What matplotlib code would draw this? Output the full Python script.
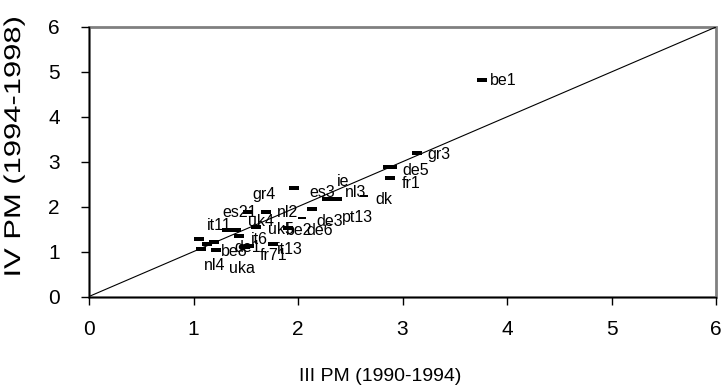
import matplotlib.pyplot as plt
from matplotlib import patheffects
from matplotlib.transforms import Affine2D
from matplotlib.patches import Rectangle

plt.rcParams['font.family'] = ['Liberation Sans', 'DejaVu Sans']

# valores por região: III PM (1990-1994) x IV PM (1994-1998)
pm3 = [1.05, 1.07, 1.13, 1.20, 1.22, 1.32, 1.41, 1.44, 1.49, 1.53, 1.60, 1.52,
       1.69, 1.76, 1.90, 1.96, 2.13, 2.28, 2.37, 2.86, 2.90, 2.88, 3.14, 3.76]
pm4 = [1.28, 1.05, 1.17, 1.22, 1.04, 1.48, 1.48, 1.35, 1.11, 1.12, 1.55, 1.89,
       1.89, 1.17, 1.53, 2.42, 1.95, 2.16, 2.16, 2.88, 2.88, 2.64, 3.20, 4.82]
# dois pontos que aparecem achatados
pm3_b = [2.04, 2.63]
pm4_b = [1.74, 2.23]

# rótulos das regiões e onde ficam
regioes = ['be1', 'gr3', 'de5', 'fr1', 'dk', 'ie', 'nl3', 'es3', 'gr4', 'de3',
           'pt13', 'nl2', 'es21', 'uk4', 'uk5', 'be2', 'de6', 'it11', 'it6',
           'be8', 'de1', 'fr71', 'it13', 'nl4', 'uka']
rot_x = [3.84, 3.24, 3.00, 2.99, 2.74, 2.37, 2.45, 2.11, 1.56, 2.18,
         2.42, 1.80, 1.28, 1.52, 1.71, 1.88, 2.08, 1.13, 1.55,
         1.26, 1.39, 1.63, 1.80, 1.10, 1.34]
rot_y = [4.82, 3.17, 2.80, 2.51, 2.17, 2.55, 2.31, 2.31, 2.28, 1.68,
         1.75, 1.88, 1.88, 1.66, 1.50, 1.46, 1.46, 1.57, 1.26,
         1.01, 1.10, 0.92, 1.04, 0.70, 0.63]

ticks = [0, 1, 2, 3, 4, 5, 6]


class Estica(patheffects.AbstractPathEffect):
    """Estica o texto ao longo da sua direção, em torno do centro."""
    def __init__(self, fator):
        super().__init__()
        self.fator = fator

    def draw_path(self, renderer, gc, tpath, affine, rgbFace=None):
        ext = tpath.get_extents()
        cx = (ext.x0 + ext.x1) / 2
        aff = Affine2D().translate(-cx, 0).scale(self.fator, 1).translate(cx, 0) + affine
        renderer.draw_path(gc, tpath, aff, rgbFace)


fig = plt.figure(figsize=(7.21, 3.89), dpi=100)
ax = fig.add_axes([89 / 721, 1 - 296.5 / 389, 627 / 721, 269.5 / 389])

ret = [(-1, -0.5), (1, -0.5), (1, 0.5), (-1, 0.5), (-1, -0.5)]
ret_b = [(-1, -0.25), (1, -0.25), (1, 0.25), (-1, 0.25), (-1, -0.25)]

ax.plot([0, 6], [0, 6], color='black', lw=0.8, zorder=2)
ax.plot(pm3, pm4, ls='none', marker=ret, ms=6.8, color='black', mew=0, zorder=3)
ax.plot(pm3_b, pm4_b, ls='none', marker=ret_b, ms=5.8, color='black', mew=0, zorder=3)

for nome, x, y in zip(regioes, rot_x, rot_y):
    ax.text(x, y, nome, fontsize=11.5, ha='left', va='center', zorder=4)

ax.set_xlim(0, 6)
ax.set_ylim(0, 6)
ax.set_xticks(ticks)
ax.set_yticks(ticks)
ax.tick_params(direction='out', length=6, width=1, color='black', labelsize=15)
ax.tick_params(axis='x', pad=11)
ax.tick_params(axis='y', pad=15)

# moldura cinza da área do gráfico
for s in ['top', 'right']:
    ax.spines[s].set_visible(False)
ax.add_patch(Rectangle((0, 0), 1, 1, transform=ax.transAxes, fill=False,
                       edgecolor='#808080', lw=2, clip_on=False, zorder=1))
for s in ['left', 'bottom']:
    ax.spines[s].set_color('black')
    ax.spines[s].set_linewidth(1)
    ax.spines[s].set_zorder(5)

ax.set_xlabel('III PM (1990-1994)', fontsize=14)
ax.xaxis.set_label_coords((380 - 89) / 627, -0.265)
yl = ax.set_ylabel('IV PM (1994-1998)', fontsize=16.5)
yl.set_path_effects([Estica(1.35)])
ax.yaxis.set_label_coords(-0.102, 0.555)

fig.savefig('out.png', dpi=100)
